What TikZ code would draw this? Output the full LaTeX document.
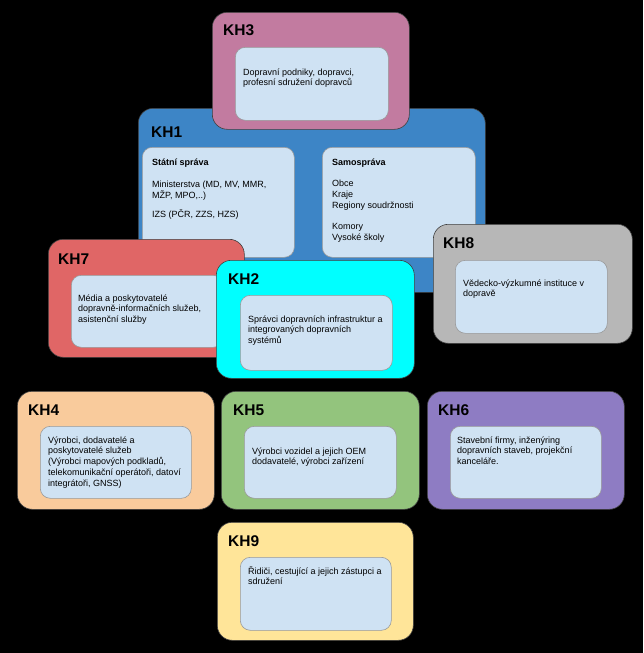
\documentclass[tikz,border=0pt]{standalone}
\usepackage{fontspec}
\setmainfont{Liberation Sans}
\definecolor{kh1c}{HTML}{3D85C6}
\definecolor{kh2c}{HTML}{00FFFF}
\definecolor{kh3c}{HTML}{C27BA0}
\definecolor{kh4c}{HTML}{F9CB9C}
\definecolor{kh5c}{HTML}{93C47D}
\definecolor{kh6c}{HTML}{8E7CC3}
\definecolor{kh7c}{HTML}{E06666}
\definecolor{kh8c}{HTML}{B7B7B7}
\definecolor{kh9c}{HTML}{FFE599}
\definecolor{innerc}{HTML}{CFE2F3}
\newcommand\khtext[1]{\parbox[t]{170pt}{\raggedright #1}}
\tikzset{
  outerbox/.style={draw=black!75, line width=0.6pt, rounded corners=15pt, anchor=north west, inner sep=0pt},
  innerbox/.style={draw=black!40, fill=innerc, line width=0.6pt, rounded corners=10pt, anchor=north west, inner sep=0pt},
  khlabel/.style={anchor=base west, inner sep=0pt, font=\fontsize{15.5}{17}\selectfont\bfseries},
  khbody/.style={anchor=base west, inner sep=0pt, font=\fontsize{9}{10.8}\selectfont},
}
\begin{document}
\begin{tikzpicture}[x=1pt,y=-1pt]
\path[fill=black] (0,0) rectangle (643,653);
\useasboundingbox (0,0) rectangle (643,653);
% KH1
\node[outerbox, fill=kh1c, minimum width=347, minimum height=184] (kh1) at (138,108) {};
\node[khlabel] (kh1l) at (151,137) {KH1};
\node[innerbox, minimum width=152, minimum height=110] (kh1a) at (142,147) {};
\node[innerbox, minimum width=153, minimum height=110] (kh1b) at (322,147) {};
\node[khbody] (kh1at) at (152,165) {\khtext{\textbf{Státní správa}\\[12pt]Ministerstva (MD, MV, MMR,\\MŽP, MPO,..)\\[8pt]IZS (PČR, ZZS, HZS)}};
\node[khbody] (kh1bt) at (332,165) {\khtext{\textbf{Samospráva}\\[11pt]Obce\\Kraje\\Regiony soudržnosti\\[10.5pt]Komory\\Vysoké školy}};
% KH3
\node[outerbox, fill=kh3c, minimum width=197, minimum height=117] (kh3) at (212,12) {};
\node[khlabel] (kh3l) at (223,35) {KH3};
\node[innerbox, minimum width=153, minimum height=73] (kh3i) at (235,47) {};
\node[khbody] (kh3t) at (243,75) {\khtext{Dopravní podniky, dopravci,\\profesní sdružení dopravců}};
% KH7
\node[outerbox, fill=kh7c, minimum width=196, minimum height=118] (kh7) at (48,239) {};
\node[khlabel] (kh7l) at (58,264) {KH7};
\node[innerbox, minimum width=152, minimum height=72] (kh7i) at (71,275) {};
\node[khbody] (kh7t) at (78,301) {\khtext{Média a poskytovatelé\\dopravně-informačních služeb,\\asistenční služby}};
% KH2
\node[outerbox, fill=kh2c, minimum width=198, minimum height=118] (kh2) at (216,260) {};
\node[khlabel] (kh2l) at (228,284) {KH2};
\node[innerbox, minimum width=152, minimum height=75] (kh2i) at (240,295) {};
\node[khbody] (kh2t) at (248,322) {\khtext{Správci dopravních infrastruktur a\\integrovaných dopravních\\systémů}};
% KH8
\node[outerbox, fill=kh8c, minimum width=199, minimum height=119] (kh8) at (433,224) {};
\node[khlabel] (kh8l) at (443,248) {KH8};
\node[innerbox, minimum width=152, minimum height=73] (kh8i) at (455,260) {};
\node[khbody] (kh8t) at (463,286) {\khtext{Vědecko-výzkumné instituce v\\dopravě}};
% KH4
\node[outerbox, fill=kh4c, minimum width=197, minimum height=118] (kh4) at (17,391) {};
\node[khlabel] (kh4l) at (28,415) {KH4};
\node[innerbox, minimum width=151, minimum height=72] (kh4i) at (40,426) {};
\node[khbody] (kh4t) at (48,443) {\khtext{Výrobci, dodavatelé a\\poskytovatelé služeb\\(Výrobci mapových podkladů,\\telekomunikační operátoři, datoví\\integrátoři, GNSS)}};
% KH5
\node[outerbox, fill=kh5c, minimum width=198, minimum height=118] (kh5) at (221,391) {};
\node[khlabel] (kh5l) at (233,415) {KH5};
\node[innerbox, minimum width=152, minimum height=72] (kh5i) at (244,426) {};
\node[khbody] (kh5t) at (252,454) {\khtext{Výrobci vozidel a jejich OEM\\dodavatelé, výrobci zařízení}};
% KH6
\node[outerbox, fill=kh6c, minimum width=197, minimum height=118] (kh6) at (427,391) {};
\node[khlabel] (kh6l) at (438,415) {KH6};
\node[innerbox, minimum width=151, minimum height=72] (kh6i) at (450,426) {};
\node[khbody] (kh6t) at (457,443) {\khtext{Stavební firmy, inženýring\\dopravních staveb, projekční\\kanceláře.}};
% KH9
\node[outerbox, fill=kh9c, minimum width=196, minimum height=118] (kh9) at (217,522) {};
\node[khlabel] (kh9l) at (228,546) {KH9};
\node[innerbox, minimum width=151, minimum height=73] (kh9i) at (240,557) {};
\node[khbody] (kh9t) at (248,574) {\khtext{Řidiči, cestující a jejich zástupci a\\sdružení}};
\end{tikzpicture}
\end{document}
